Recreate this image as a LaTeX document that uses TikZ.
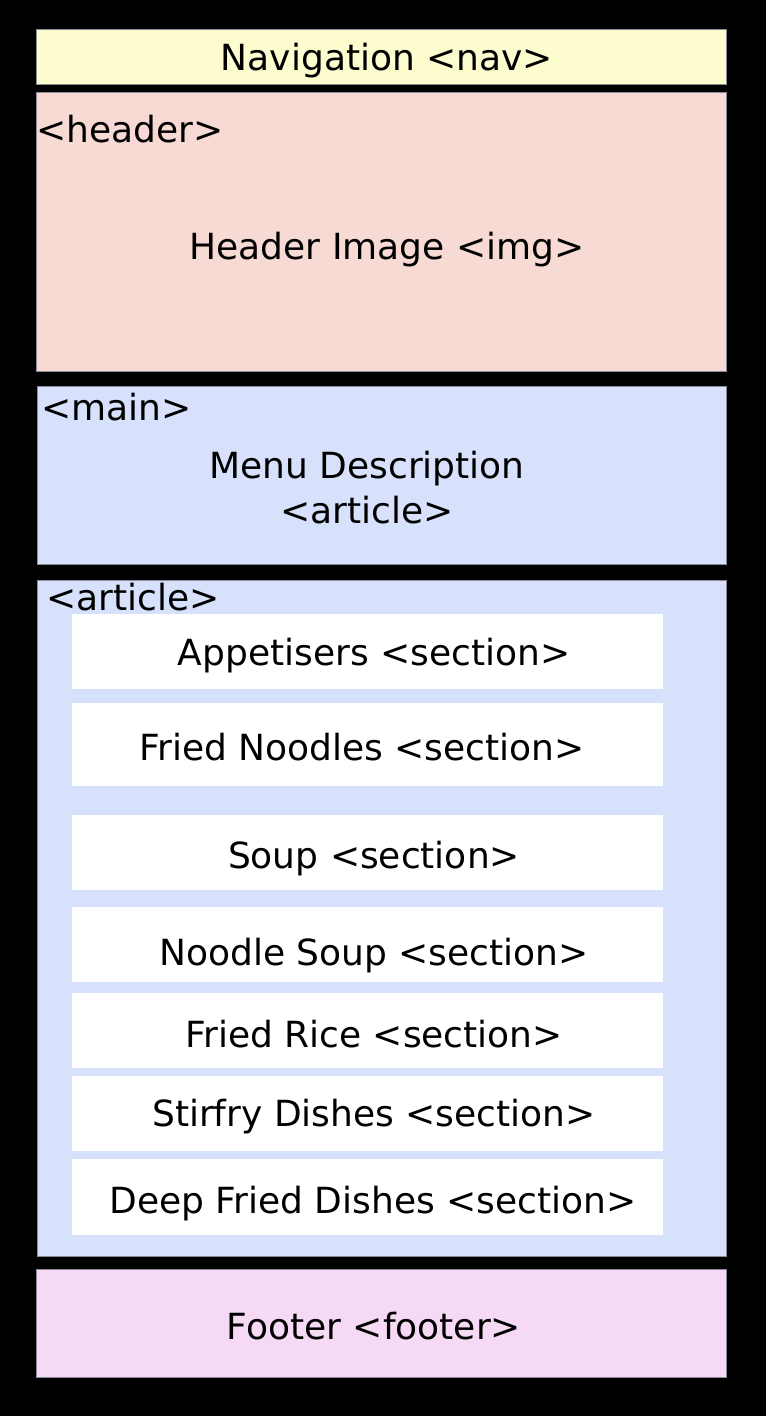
\documentclass[tikz,border=0pt]{standalone}
\usepackage{fontspec}
\setmainfont{DejaVu Sans}
\definecolor{navc}{HTML}{FCFCCF}
\definecolor{headc}{HTML}{F8DAD5}
\definecolor{mainc}{HTML}{D8E1FB}
\definecolor{footc}{HTML}{F6DAF5}
\definecolor{edgec}{HTML}{8A8A99}
\tikzset{
  blockbox/.style={draw=edgec, line width=0.6pt},
  secbox/.style={fill=white, draw=none},
  lbl/.style={font=\fontsize{27}{32}\selectfont, inner sep=0pt, text=black, anchor=base},
}
\begin{document}
\begin{tikzpicture}[x=0.75pt, y=-0.75pt]
\useasboundingbox (0,0) rectangle (766,1416);
\fill[black] (0,0) rectangle (766,1416);
% blocks
\path[blockbox, fill=navc] (36,29) rectangle (726,84);
\path[blockbox, fill=headc] (36,92) rectangle (726,371);
\path[blockbox, fill=mainc] (37,386) rectangle (726,564);
\path[blockbox, fill=mainc] (37,580.5) rectangle (726.5,1256);
\path[blockbox, fill=footc] (36,1269) rectangle (726,1377);
% sections
\path[secbox] (72,614) rectangle (662.5,689);
\path[secbox] (72,703) rectangle (662.5,786);
\path[secbox] (72,815) rectangle (662.5,890);
\path[secbox] (72,907) rectangle (662.5,982);
\path[secbox] (72,993) rectangle (662.5,1068);
\path[secbox] (72,1076) rectangle (662.5,1151);
\path[secbox] (72,1159) rectangle (662.5,1235);
% labels
\node[lbl] (nav) at (387,71) {Navigation <nav>};
\node[lbl, anchor=base west] (headertag) at (36,143) {<header>};
\node[lbl] (headimg) at (387,259) {Header Image <img>};
\node[lbl, anchor=base west] (maintag) at (41,420) {<main>};
\node[lbl] (menudesc) at (367,478) {Menu Description};
\node[lbl] (menuart) at (367,523) {<article>};
\node[lbl, anchor=base west] (articletag) at (46,610) {<article>};
\node[lbl] (s1) at (374,665) {Appetisers <section>};
\node[lbl] (s2) at (362,760) {Fried Noodles <section>};
\node[lbl] (s3) at (374,868) {Soup <section>};
\node[lbl] (s4) at (374,965) {Noodle Soup <section>};
\node[lbl] (s5) at (374,1047) {Fried Rice <section>};
\node[lbl] (s6) at (374,1126) {Stirfry Dishes <section>};
\node[lbl] (s7) at (373,1213) {Deep Fried Dishes <section>};
\node[lbl] (foot) at (374,1339) {Footer <footer>};
\end{tikzpicture}
\end{document}
